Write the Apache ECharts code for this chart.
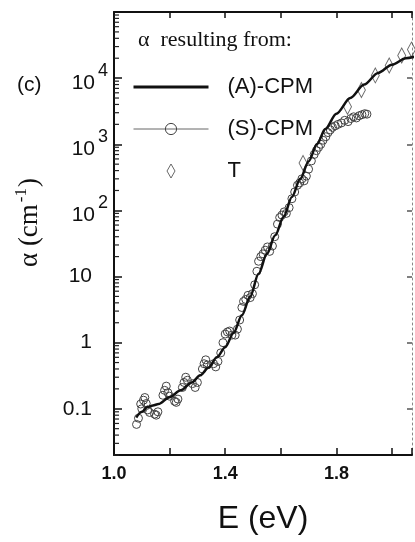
<!DOCTYPE html>
<html><head><meta charset="utf-8">
<script src="https://cdn.jsdelivr.net/npm/echarts@6/dist/echarts.min.js"></script>
<style>html,body{margin:0;padding:0;background:#fff}#c{width:415px;height:542px}</style>
</head><body><div id="c"></div>
<script>
// ---- data ----
const xTickLabels = ['1.0', '1.4', '1.8'];
const yMin = 0.02, yMax = 100000;
const yMajorTicks = [0.1, 1, 10, 100, 1000, 10000];
const yTickLabels = ['0.1', '1', '10', '10|2', '10|3', '10|4'];
const yMinorTicks = [0.02,0.03,0.04,0.05,0.06,0.07,0.08,0.09,
  0.2,0.3,0.4,0.5,0.6,0.7,0.8,0.9,
  2,3,4,5,6,7,8,9,
  20,30,40,50,60,70,80,90,
  200,300,400,500,600,700,800,900,
  2000,3000,4000,5000,6000,7000,8000,9000,
  20000,30000,40000,50000,60000,70000,80000,90000];

// (A)-CPM : solid curve [E (eV), alpha (cm^-1)]
const aCPM = [
  [1.08,0.074],[1.10,0.09],[1.12,0.106],[1.14,0.112],[1.16,0.118],[1.20,0.15],
  [1.24,0.19],[1.28,0.25],[1.31,0.32],[1.34,0.42],[1.37,0.6],[1.40,0.85],
  [1.43,1.4],[1.46,2.6],[1.49,5],[1.52,11],[1.55,22],[1.58,42],[1.61,80],
  [1.64,160],[1.67,300],[1.70,550],[1.73,1000],[1.76,1700],[1.80,2900],
  [1.85,5000],[1.90,8000],[1.95,12000],[2.00,16000],[2.05,20000],[2.08,21000]
];
// (S)-CPM : open circles
const sCPM = [
  [1.081,0.058],[1.088,0.072],[1.096,0.118],[1.100,0.10],[1.106,0.135],[1.111,0.148],
  [1.116,0.12],[1.121,0.096],[1.128,0.088],[1.146,0.083],[1.152,0.08],[1.158,0.09],
  [1.176,0.16],[1.182,0.19],[1.188,0.22],[1.194,0.175],[1.200,0.155],[1.218,0.13],
  [1.224,0.125],[1.230,0.14],[1.246,0.21],[1.252,0.25],[1.258,0.30],[1.264,0.27],
  [1.282,0.24],[1.292,0.21],[1.300,0.25],[1.318,0.40],[1.324,0.48],[1.330,0.55],
  [1.336,0.46],[1.358,0.48],[1.366,0.43],[1.374,0.52],[1.384,0.70],[1.392,1.0],
  [1.400,1.35],[1.408,1.45],[1.416,1.5],[1.424,1.3],[1.436,1.3],[1.444,1.6],
  [1.452,2.2],[1.460,3.4],[1.466,4.2],[1.474,4.5],[1.482,5.2],[1.490,4.8],
  [1.498,5.5],[1.506,7.5],[1.514,12],[1.520,17],[1.528,20],[1.536,22],
  [1.544,25],[1.552,28],[1.560,24],[1.570,29],[1.578,40],[1.588,62],
  [1.596,78],[1.604,85],[1.612,95],[1.620,90],[1.630,110],[1.640,150],
  [1.650,190],[1.660,240],[1.668,260],[1.676,300],[1.684,280],[1.692,330],
  [1.700,420],[1.710,560],[1.720,700],[1.728,800],[1.736,900],[1.744,1000],
  [1.752,1150],[1.762,1300],[1.770,1500],[1.778,1650],[1.786,1800],[1.796,1900],
  [1.806,2000],[1.818,2100],[1.830,2300],[1.842,2200],[1.852,2450],[1.862,2600],
  [1.872,2500],[1.882,2700],[1.892,2800],[1.902,2900],[1.910,2850]
];
// T : open diamonds
const tData = [
  [1.68,520],[1.84,3700],[1.89,6600],[1.94,11000],[1.99,15500],[2.035,22000],[2.07,27000]
];

const SANS = '"Liberation Sans", Arial, sans-serif';
const SERIF = '"Liberation Serif", "Times New Roman", serif';
const INK = '#111';
const X_MIN = 1.0, X_MAX = 2.072;

const chart = echarts.init(document.getElementById('c'), null, {renderer: 'canvas'});
chart.setOption({
  animation: false,
  backgroundColor: '#fff',
  grid: {left: 114, right: 2, top: 12, bottom: 87},
  xAxis: [{
    type: 'value', min: X_MIN, max: X_MAX, interval: 0.2, position: 'bottom',
    axisLine: {onZero: false, lineStyle: {color: INK, width: 2}},
    axisTick: {inside: true, length: 7, lineStyle: {color: INK, width: 1.5}},
    splitLine: {show: false},
    axisLabel: {
      margin: 10, color: INK, fontSize: 18, fontWeight: 'bold', fontFamily: SANS,
      formatter: function (v) { const s = v.toFixed(1); return xTickLabels.indexOf(s) >= 0 && Math.abs(v - parseFloat(s)) < 1e-6 ? s : ''; }
    },
    name: 'E (eV)', nameLocation: 'middle', nameGap: 48,
    nameTextStyle: {fontSize: 32, fontFamily: SANS, color: INK}
  }, {
    type: 'value', min: X_MIN, max: X_MAX, interval: 0.2, position: 'top',
    axisLine: {onZero: false, lineStyle: {color: INK, width: 2}},
    axisTick: {inside: true, length: 6, lineStyle: {color: INK, width: 1.5}},
    splitLine: {show: false}, axisLabel: {show: false}
  }],
  yAxis: [{
    type: 'log', logBase: 10, min: yMin, max: yMax, position: 'left',
    axisLine: {onZero: false, lineStyle: {color: INK, width: 2}},
    axisTick: {inside: true, length: 8, customValues: yMajorTicks, lineStyle: {color: INK, width: 1.5}},
    splitLine: {show: false},
    axisLabel: {
      margin: 6, color: INK, customValues: yMajorTicks,
      formatter: function (v) {
        const i = Math.round(Math.log10(v)) + 1;
        const s = yTickLabels[i];
        if (!s) return '';
        if (s.indexOf('|') >= 0) { const p = s.split('|'); return '{b|' + p[0] + '}{s|' + p[1] + '}'; }
        return '{p|' + s + '}{sp|}';
      },
      rich: {
        b: {fontSize: 21, fontFamily: SANS, color: INK, padding: [10, 0, 0, 0], verticalAlign: 'middle'},
        s: {fontSize: 18, fontFamily: SANS, color: INK, padding: [0, 0, 14, 3], verticalAlign: 'middle'},
        p: {fontSize: 21, fontFamily: SANS, color: INK},
        sp: {width: 16}
      }
    },
    name: '{a|α (cm}{s|-1}{a|)}', nameLocation: 'middle', nameGap: 68,
    nameTextStyle: {
      color: INK, padding: [0, 0, 0, 22],
      rich: {
        a: {fontSize: 27, fontFamily: SERIF, color: INK},
        s: {fontSize: 17, fontFamily: SERIF, color: INK, padding: [0, 1, 16, 2]}
      }
    }
  }, {
    type: 'log', logBase: 10, min: yMin, max: yMax, position: 'right',
    axisLine: {onZero: false, lineStyle: {color: '#888', width: 1, type: [2, 3]}},
    axisTick: {inside: true, length: 5, customValues: yMajorTicks, lineStyle: {color: '#555', width: 1.5}},
    splitLine: {show: false}, axisLabel: {show: false}
  }],
  legend: {
    orient: 'vertical', left: 128, top: 69, itemWidth: 75, itemHeight: 14, itemGap: 16,
    selectedMode: false,
    textStyle: {fontSize: 22, fontFamily: SANS, color: INK, lineHeight: 26, padding: [0, 0, 0, 14]},
    data: [
      {name: '(A)-CPM', icon: 'path://M0,0 L75,0 L75,3 L0,3 Z', itemStyle: {color: INK, borderWidth: 0}},
      {name: '(S)-CPM', lineStyle: {color: '#666', width: 1, opacity: 1}, itemStyle: {color: 'rgba(0,0,0,0)', borderColor: '#444', borderWidth: 1}},
      {name: 'T', icon: 'path://M0,0 L4,7 L0,14 L-4,7 Z', itemStyle: {color: 'rgba(0,0,0,0)', borderColor: '#444', borderWidth: 1}}
    ]
  },
  graphic: [
    {type: 'text', left: 17, top: 75, style: {text: '(c)', font: '21px ' + SANS, fill: INK}},
    {type: 'text', left: 138, top: 29, style: {text: 'α  resulting from:', font: '22px ' + SERIF, fill: INK}}
  ],
  series: [{
    // minor log ticks on the left axis, placed through the y scale
    type: 'custom', xAxisIndex: 0, yAxisIndex: 0, z: 6, silent: true, clip: false,
    data: yMinorTicks.map(function (v) { return [X_MIN, v]; }),
    renderItem: function (params, api) {
      const p = api.coord([api.value(0), api.value(1)]);
      return {type: 'line', shape: {x1: p[0], y1: p[1], x2: p[0] + 5, y2: p[1]},
              style: {stroke: '#222', lineWidth: 1.2}};
    }
  }, {
    name: '(S)-CPM', type: 'line', data: sCPM, xAxisIndex: 0, yAxisIndex: 0, z: 2,
    symbol: 'circle', symbolSize: 8, showAllSymbol: true,
    itemStyle: {color: 'rgba(0,0,0,0)', borderColor: '#444', borderWidth: 1},
    lineStyle: {width: 0, opacity: 0}
  }, {
    name: 'T', type: 'scatter', data: tData, xAxisIndex: 0, yAxisIndex: 0, z: 3,
    symbol: 'diamond', symbolSize: [8, 15],
    itemStyle: {color: 'rgba(0,0,0,0)', borderColor: '#444', borderWidth: 1}
  }, {
    name: '(A)-CPM', type: 'line', data: aCPM, xAxisIndex: 0, yAxisIndex: 0, z: 4,
    symbol: 'none', smooth: 0.3, smoothMonotone: 'x',
    lineStyle: {color: INK, width: 2.5}, itemStyle: {color: INK}
  }]
});
</script>
</body></html>
